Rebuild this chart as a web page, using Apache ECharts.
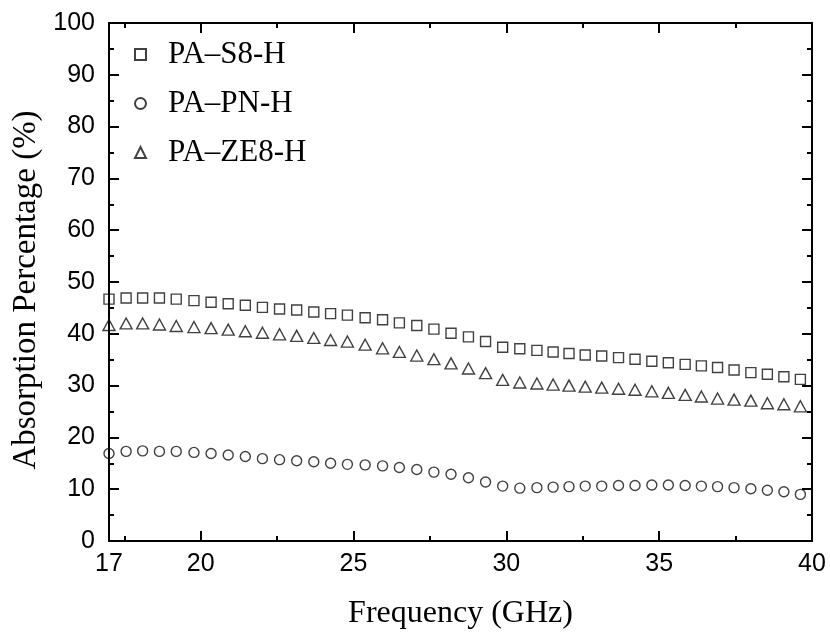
<!DOCTYPE html>
<html>
<head>
<meta charset="utf-8">
<script src="https://cdn.jsdelivr.net/npm/echarts@6/dist/echarts.min.js"></script>
<style>
  html, body { margin: 0; padding: 0; background: #fff; }
  #chart { width: 830px; height: 637px; }
</style>
</head>
<body>
<div id="chart"></div>
<script>
// Measurement frequencies (GHz)
const freq = [17.0, 17.56, 18.1, 18.65, 19.2, 19.78, 20.34, 20.9, 21.46, 22.02, 22.58, 23.14, 23.7, 24.25,
  24.8, 25.38, 25.95, 26.5, 27.07, 27.63, 28.19, 28.76, 29.32, 29.88, 30.44, 31.0, 31.53, 32.05, 32.58,
  33.12, 33.67, 34.21, 34.76, 35.3, 35.85, 36.38, 36.91, 37.45, 38.0, 38.54, 39.08, 39.62];

// Absorption percentage (%) per sample
const absS8 = [46.7, 46.9, 46.9, 46.9, 46.7, 46.4, 46.1, 45.8, 45.5, 45.1, 44.8, 44.6, 44.2, 43.9,
  43.6, 43.1, 42.7, 42.1, 41.6, 40.9, 40.1, 39.4, 38.5, 37.4, 37.1, 36.8, 36.5, 36.2, 35.9,
  35.7, 35.4, 35.1, 34.7, 34.4, 34.1, 33.8, 33.5, 33.0, 32.5, 32.2, 31.7, 31.2];
const absPN = [16.9, 17.3, 17.4, 17.3, 17.3, 17.1, 16.9, 16.6, 16.3, 15.9, 15.7, 15.5, 15.3, 15.0,
  14.8, 14.7, 14.5, 14.2, 13.8, 13.3, 12.9, 12.2, 11.4, 10.6, 10.2, 10.3, 10.4, 10.5, 10.6,
  10.6, 10.7, 10.7, 10.8, 10.8, 10.7, 10.6, 10.5, 10.3, 10.1, 9.8, 9.5, 9.0];
const absZE8 = [41.7, 42.0, 42.0, 41.8, 41.5, 41.3, 41.1, 40.8, 40.5, 40.2, 39.9, 39.6, 39.2, 38.8,
  38.5, 37.9, 37.2, 36.5, 35.8, 35.1, 34.3, 33.3, 32.4, 31.1, 30.6, 30.4, 30.2, 30.0, 29.8,
  29.6, 29.4, 29.2, 28.9, 28.6, 28.2, 27.9, 27.5, 27.3, 27.1, 26.6, 26.4, 26.0];

const seriesNames = ['PA\u2013S8-H', 'PA\u2013PN-H', 'PA\u2013ZE8-H'];

// Axis ticks and labels
const xLabelValues = [17, 20, 25, 30, 35, 40];
const xMajorTicks = [20, 25, 30, 35];
const xMinorTicks = [17.5, 22.5, 27.5, 32.5, 37.5];

const pairs = ys => freq.map((f, i) => [f, ys[i]]);

const ink = '#000';
const sansFont = '"Liberation Sans", Arial, sans-serif';
const serifFont = '"Liberation Serif", "Times New Roman", serif';

function xAxisDef(position, ticks, len, withLabels) {
  return {
    type: 'value', min: 17, max: 40, position: position,
    axisLine: { show: true, onZero: false, lineStyle: { color: ink, width: 2 } },
    axisTick: { show: true, inside: true, length: len, customValues: ticks, lineStyle: { color: ink, width: 2 } },
    axisLabel: withLabels
      ? { show: true, customValues: xLabelValues, margin: 11, color: ink, fontSize: 25, fontFamily: sansFont }
      : { show: false },
    splitLine: { show: false }
  };
}

function yAxisDef(position, withLabels) {
  return {
    type: 'value', min: 0, max: 100, interval: 10, position: position,
    axisLine: { show: true, onZero: false, lineStyle: { color: ink, width: 2 } },
    axisTick: { show: true, inside: true, length: 10, lineStyle: { color: ink, width: 2 } },
    minorTick: { show: true, splitNumber: 2, length: 5, lineStyle: { color: ink, width: 2 } },
    axisLabel: withLabels
      ? { show: true, margin: 14, color: ink, fontSize: 25, fontFamily: sansFont }
      : { show: false },
    splitLine: { show: false },
    minorSplitLine: { show: false }
  };
}

const bottomAxis = xAxisDef('bottom', xMajorTicks, 10, true);
bottomAxis.name = 'Frequency (GHz)';
bottomAxis.nameLocation = 'middle';
bottomAxis.nameGap = 57;
bottomAxis.nameTextStyle = { color: ink, fontSize: 32, fontFamily: serifFont };

const leftAxis = yAxisDef('left', true);
leftAxis.name = 'Absorption Percentage (%)';
leftAxis.nameLocation = 'middle';
leftAxis.nameGap = 57;
leftAxis.nameTextStyle = { color: ink, fontSize: 33, fontFamily: serifFont, padding: [0, 16, 0, 0] };

const markStyle = { color: 'rgba(0,0,0,0)', borderColor: '#111', borderWidth: 1.4 };

const option = {
  backgroundColor: '#fff',
  animation: false,
  grid: { left: 109, right: 18, top: 23, bottom: 96, containLabel: false },
  xAxis: [
    bottomAxis,
    xAxisDef('bottom', xMinorTicks, 5, false),
    xAxisDef('top', xMajorTicks, 10, false),
    xAxisDef('top', xMinorTicks, 5, false)
  ],
  yAxis: [
    leftAxis,
    yAxisDef('right', false)
  ],
  legend: {
    orient: 'vertical',
    left: 129,
    top: 34,
    itemWidth: 11,
    itemHeight: 11,
    itemGap: 18,
    textStyle: { color: ink, fontSize: 31, fontFamily: serifFont, lineHeight: 31, padding: [0, 0, 0, 17] },
    data: seriesNames
  },
  series: [
    {
      name: seriesNames[0], type: 'scatter', xAxisIndex: 0, yAxisIndex: 0,
      symbol: 'rect', symbolSize: 10, itemStyle: markStyle, data: pairs(absS8)
    },
    {
      name: seriesNames[1], type: 'scatter', xAxisIndex: 0, yAxisIndex: 0,
      symbol: 'circle', symbolSize: 10, itemStyle: markStyle, data: pairs(absPN)
    },
    {
      name: seriesNames[2], type: 'scatter', xAxisIndex: 0, yAxisIndex: 0,
      symbol: 'triangle', symbolSize: [12, 11], itemStyle: markStyle, data: pairs(absZE8)
    }
  ]
};

const chart = echarts.init(document.getElementById('chart'), null, { renderer: 'canvas' });
chart.setOption(option);
</script>
</body>
</html>
